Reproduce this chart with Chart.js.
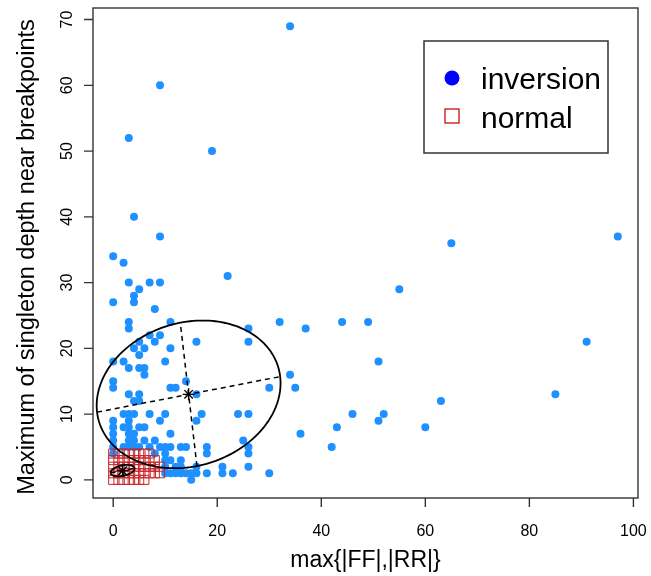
<!DOCTYPE html>
<html>
<head>
<meta charset="utf-8">
<script src="https://cdn.jsdelivr.net/npm/chart.js@4.4.1/dist/chart.umd.min.js"></script>
<style>
  html, body { margin: 0; padding: 0; background: #fff; }
  #wrap { width: 651px; height: 576px; }
</style>
</head>
<body>
<div id="wrap"><canvas id="chart" width="651" height="576"></canvas></div>
<script>
const xTicks = [0, 20, 40, 60, 80, 100];
const yTicks = [0, 10, 20, 30, 40, 50, 60, 70];

// [max{|FF|,|RR|}, max singleton depth]
const inversionPoints = [
  [34, 69], [9, 60], [3, 52], [19, 50], [4, 40], [9, 37], [97, 37], [65, 36], [0, 34], [2, 33], [22, 31],
  [3, 30], [7, 30], [9, 30], [5, 29], [55, 29], [4, 28], [0, 27], [4, 27], [8, 26],
  [3, 24], [11, 24], [32, 24], [44, 24], [49, 24], [3, 23], [26, 23], [37, 23],
  [7, 22], [9, 22], [5, 21], [8, 21], [16, 21], [26, 21], [91, 21],
  [4, 20], [6, 20], [11, 20], [5, 19], [0, 18], [2, 18], [10, 18], [51, 18],
  [3, 17], [5, 17], [6, 17], [6, 16], [34, 16], [0, 15], [14, 15],
  [0, 14], [11, 14], [12, 14], [30, 14], [35, 14],
  [3, 13], [5, 13], [16, 13], [85, 13], [4, 12], [5, 12], [63, 12],
  [2, 10], [3, 10], [4, 10], [7, 10], [10, 10], [17, 10], [24, 10], [26, 10], [46, 10], [52, 10],
  [0, 9], [3, 9], [9, 9], [16, 9], [51, 9],
  [0, 8], [2, 8], [3, 8], [5, 8], [6, 8], [43, 8], [60, 8],
  [0, 7], [3, 7], [4, 7], [11, 7], [36, 7],
  [0, 6], [3, 6], [4, 6], [6, 6], [8, 6], [25, 6],
  [0, 5], [2, 5], [3, 5], [4, 5], [5, 5], [7, 5], [9, 5], [10, 5], [11, 5], [13, 5], [14, 5], [18, 5], [26, 5], [42, 5],
  [0, 4], [8, 4], [10, 4], [18, 4], [26, 4],
  [10, 3], [11, 3], [13, 3],
  [10, 2], [12, 2], [13, 2], [16, 2], [21, 2], [26, 2],
  [10, 1], [11, 1], [12, 1], [13, 1], [14, 1], [15, 1], [16, 1], [18, 1], [21, 1], [23, 1], [30, 1],
  [15, 0]
];

const normalPoints = [
  [0, 4], [1, 4], [2, 4], [3, 4], [4, 4], [5, 4], [6, 4], [7, 4],
  [0, 3], [1, 3], [2, 3], [3, 3], [4, 3], [5, 3], [6, 3], [7, 3], [8, 3],
  [0, 2], [1, 2], [2, 2], [3, 2], [4, 2], [5, 2], [6, 2], [7, 2], [8, 2], [9, 2],
  [0, 1], [1, 1], [2, 1], [3, 1], [4, 1], [5, 1], [6, 1], [7, 1], [8, 1], [9, 1],
  [0, 0], [1, 0], [2, 0], [3, 0], [4, 0], [5, 0], [6, 0]
];

// ellipses: centre and two conjugate half-axes, data units
const inversionEllipse = {center: [14.5, 13.0], a: [17.6, 2.7], b: [-1.6, 10.9]};
const normalEllipse = {center: [1.8, 1.4], a: [2.3, 0.35], b: [-0.12, 0.8]};

const toXY = (pts) => pts.map(([x, y]) => ({x, y}));

function drawEllipse(ctx, xs, ys, e) {
  const px = (x) => xs.getPixelForValue(x);
  const py = (y) => ys.getPixelForValue(y);
  const [cx, cy] = e.center;
  ctx.save();
  ctx.strokeStyle = '#000';
  ctx.lineWidth = 1.8;
  ctx.beginPath();
  for (let i = 0; i <= 180; i++) {
    const t = (i / 180) * Math.PI * 2;
    const x = px(cx + e.a[0] * Math.cos(t) + e.b[0] * Math.sin(t));
    const y = py(cy + e.a[1] * Math.cos(t) + e.b[1] * Math.sin(t));
    if (i) ctx.lineTo(x, y); else ctx.moveTo(x, y);
  }
  ctx.closePath();
  ctx.stroke();

  ctx.lineWidth = 1.5;
  ctx.setLineDash([5, 4]);
  [e.a, e.b].forEach((v) => {
    ctx.beginPath();
    ctx.moveTo(px(cx - v[0]), py(cy - v[1]));
    ctx.lineTo(px(cx + v[0]), py(cy + v[1]));
    ctx.stroke();
  });
  ctx.setLineDash([]);

  // asterisk at the centre
  const sx = px(cx), sy = py(cy), r = 6;
  ctx.lineWidth = 1.4;
  ctx.beginPath();
  for (let k = 0; k < 4; k++) {
    const ang = (k * Math.PI) / 4;
    ctx.moveTo(sx - r * Math.cos(ang), sy - r * Math.sin(ang));
    ctx.lineTo(sx + r * Math.cos(ang), sy + r * Math.sin(ang));
  }
  ctx.stroke();
  ctx.restore();
}

const framePlugin = {
  id: 'frame',
  afterDatasetsDraw(chart) {
    const {ctx, chartArea: area, scales: {x, y}} = chart;
    drawEllipse(ctx, x, y, inversionEllipse);
    drawEllipse(ctx, x, y, normalEllipse);

    ctx.save();
    ctx.strokeStyle = '#333';
    ctx.lineWidth = 1.4;
    ctx.strokeRect(area.left, area.top, area.right - area.left, area.bottom - area.top);

    // ticks
    ctx.fillStyle = '#000';
    ctx.font = '16px "Liberation Sans", Arial, sans-serif';
    ctx.textAlign = 'center';
    ctx.textBaseline = 'alphabetic';
    ctx.beginPath();
    xTicks.forEach((v) => {
      const p = x.getPixelForValue(v);
      ctx.moveTo(p, area.bottom);
      ctx.lineTo(p, area.bottom + 9);
    });
    yTicks.forEach((v) => {
      const p = y.getPixelForValue(v);
      ctx.moveTo(area.left, p);
      ctx.lineTo(area.left - 9, p);
    });
    ctx.stroke();
    xTicks.forEach((v) => ctx.fillText(String(v), x.getPixelForValue(v), 536));
    yTicks.forEach((v) => {
      ctx.save();
      ctx.translate(72, y.getPixelForValue(v));
      ctx.rotate(-Math.PI / 2);
      ctx.fillText(String(v), 0, 0);
      ctx.restore();
    });

    // axis titles
    ctx.font = '23px "Liberation Sans", Arial, sans-serif';
    ctx.fillText('max{|FF|,|RR|}', (area.left + area.right) / 2, 567);
    ctx.save();
    ctx.translate(34, 257);
    ctx.rotate(-Math.PI / 2);
    ctx.font = '23.5px "Liberation Sans", Arial, sans-serif';
    ctx.fillText('Maximum of singleton depth near breakpoints', 0, 0);
    ctx.restore();

    // legend
    ctx.strokeStyle = '#333';
    ctx.lineWidth = 1.5;
    ctx.strokeRect(424, 41, 184, 112);
    ctx.fillStyle = '#0000ff';
    ctx.beginPath();
    ctx.arc(452, 78, 7.5, 0, Math.PI * 2);
    ctx.fill();
    ctx.strokeStyle = '#d03030';
    ctx.lineWidth = 1.5;
    ctx.strokeRect(445, 109, 14, 14);
    ctx.fillStyle = '#000';
    ctx.textAlign = 'left';
    ctx.font = '30px "Liberation Sans", Arial, sans-serif';
    ctx.fillText('inversion', 481, 89);
    ctx.fillText('normal', 481, 128);
    ctx.restore();
  }
};

new Chart(document.getElementById('chart'), {
  type: 'scatter',
  data: {
    datasets: [
      {
        label: 'normal',
        data: toXY(normalPoints),
        pointStyle: 'rect',
        pointRadius: 6.4,
        backgroundColor: 'rgba(0,0,0,0)',
        borderColor: '#c8262a',
        borderWidth: 1,
        order: 0,
      },
      {
        label: 'inversion',
        data: toXY(inversionPoints),
        pointStyle: 'circle',
        pointRadius: 4,
        backgroundColor: '#1e90ff',
        borderWidth: 0,
        order: 1,
      },
    ],
  },
  options: {
    responsive: false,
    animation: false,
    layout: {padding: {left: 93, right: 13, top: 8, bottom: 78}},
    plugins: {legend: {display: false}, tooltip: {enabled: false}},
    scales: {
      x: {type: 'linear', min: -3.88, max: 100.88, display: false},
      y: {type: 'linear', min: -2.76, max: 71.76, display: false},
    },
  },
  plugins: [framePlugin],
});
</script>
</body>
</html>
